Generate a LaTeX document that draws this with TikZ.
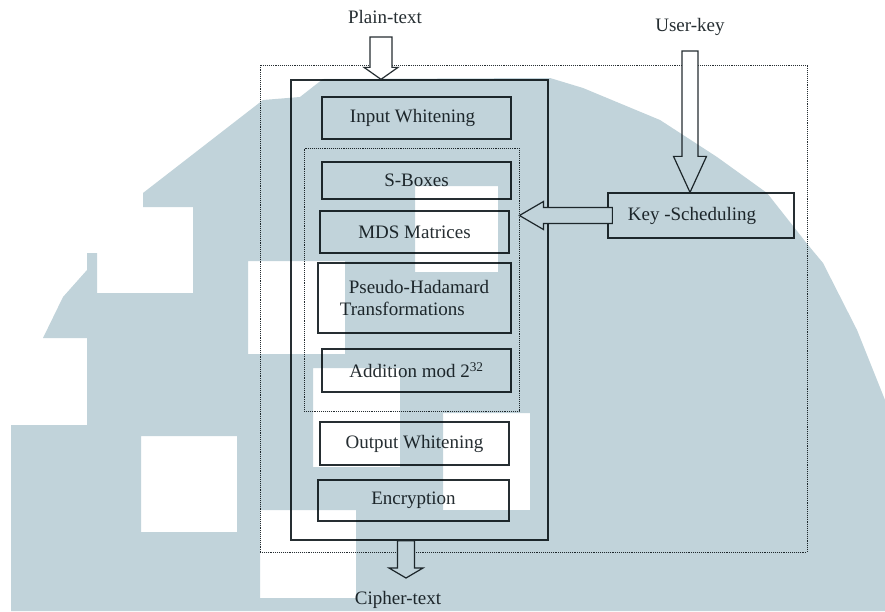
\documentclass[tikz,border=0pt]{standalone}
\usepackage{fontspec}
\setmainfont{Liberation Serif}
\usetikzlibrary{positioning}
\usetikzlibrary{calc}

\definecolor{wmblue}{RGB}{193,211,218}
\definecolor{ink}{RGB}{38,46,50}

\tikzset{
  stage/.style={draw=ink, line width=1.3pt, minimum width=189pt, minimum height=42pt, inner sep=0pt, text=ink, font=\fontsize{19}{22}\selectfont},
  frame/.style={draw=ink, line width=1.3pt, inner sep=0pt},
  dotframe/.style={draw=ink, densely dotted, line width=0.9pt, inner sep=0pt},
  blockarrow/.style={draw=ink, line width=1.2pt, fill=white, line join=miter},
  caption/.style={text=ink, inner sep=0pt, font=\fontsize{19}{22}\selectfont},
}

% hollow arrow pointing down: tail, tip, half shaft, half head, head length
\newcommand{\downblock}[5]{%
  \draw[blockarrow] let \p1=(#1), \p2=(#2) in
    (\x1-#3,\y1) -- (\x1-#3,\y2+#5) -- (\x1-#4,\y2+#5) -- (\x1,\y2)
    -- (\x1+#4,\y2+#5) -- (\x1+#3,\y2+#5) -- (\x1+#3,\y1) -- cycle;}
% hollow arrow pointing left: tail, tip, half shaft, half head, head length
\newcommand{\leftblock}[5]{%
  \draw[blockarrow] let \p1=(#1), \p2=(#2) in
    (\x1,\y1-#3) -- (\x2+#5,\y1-#3) -- (\x2+#5,\y1-#4) -- (\x2,\y1)
    -- (\x2+#5,\y1+#4) -- (\x2+#5,\y1+#3) -- (\x1,\y1+#3) -- cycle;}

\begin{document}
\begin{tikzpicture}[x=1pt,y=-1pt]

\useasboundingbox (0,0) rectangle (885,611);
\fill[white] (0,0) rectangle (885,611);

%\draw[gray,very thin, step=50pt, opacity=0.5] (0,0) grid (885,611);

\node[caption] (plain) at (385,17) {Plain-text};
\node[caption] (user) at (690,27) {User-key};
\node[caption] (cipher) at (398,600) {Cipher-text};

\node[dotframe, minimum width=547pt, minimum height=487pt] (outer) at (533.5,308.5) {};
\node[frame, minimum width=257pt, minimum height=460pt] (core) at (419.5,310) {};
\node[dotframe, minimum width=215pt, minimum height=263pt] (rounds) at (411.5,279.5) {};

\node[stage] (inwhite) at (416.5,118) {Input Whitening\hspace*{8pt}};
\node[stage, minimum height=37pt] (sbox) at (416.5,180.5) {S-Boxes};
\node[stage] (mds) at (414.5,232) {MDS Matrices};
\node[stage, minimum width=193pt, minimum height=70pt, align=left] (pht) at (414.5,298) {\hspace*{9pt}Pseudo-Hadamard\\Transformations};
\node[stage, minimum height=43pt] (addmod) at (416.5,370.5) {Addition mod 2\textsuperscript{32}};
\node[stage, minimum height=43pt] (outwhite) at (414.5,443.5) {Output Whitening};
\node[stage, minimum width=191pt, minimum height=41pt] (encrypt) at (413.5,500.5) {Encryption};

\node[stage, minimum width=186pt, minimum height=45pt] (keysched) at (701,215.5) {Key -Scheduling\hspace*{18pt}};

\coordinate (ptail) at (381,37);
\coordinate (utail) at (690,51);
\coordinate (chead) at (406,578);

\downblock{ptail}{ptail |- core.north}{11pt}{17pt}{12pt}
\downblock{utail}{utail |- keysched.north}{8pt}{16.5pt}{36pt}
\leftblock{[xshift=5pt]keysched.west}{rounds.east |- keysched.west}{8pt}{14pt}{24pt}
\downblock{chead |- core.south}{chead}{8.5pt}{17pt}{10pt}

% background stamp, laid over everything
\fill[wmblue, blend mode=multiply, even odd rule]
  (263,100) -- (300,97) -- (323,79) -- (550,78) -- (583,88) -- (660,120)
  -- (717,157) -- (767,193) -- (808,245) -- (823,263) -- (857,330) -- (885,400)
  -- (885,611) -- (11,611) -- (11,425) -- (87,425) -- (87,338) -- (43,338)
  -- (63,297) -- (87,270) -- (87,253) -- (97,253) -- (97,293) -- (193,293)
  -- (193,207) -- (143,207) -- (143,193) -- cycle
  (415,186) rectangle (498,272)
  (248,261) rectangle (345,354)
  (313,368) rectangle (400,467)
  (443,413) rectangle (530,510)
  (141,436) rectangle (237,532)
  (260,510) rectangle (356,598);

\end{tikzpicture}
\end{document}
